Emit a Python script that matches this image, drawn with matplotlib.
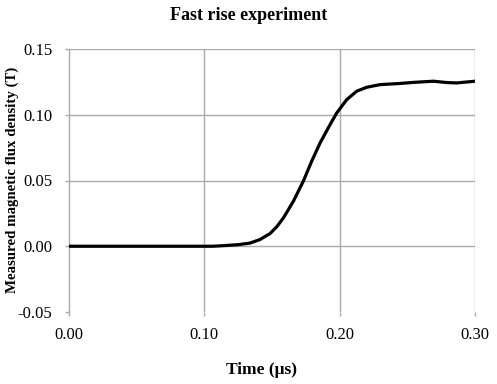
import matplotlib
matplotlib.use("Agg")
import matplotlib.pyplot as plt
from matplotlib.ticker import FixedLocator, FormatStrFormatter

time_us = [0.0, 0.05, 0.100, 0.106, 0.115, 0.125, 0.1337, 0.1411, 0.1485, 0.1535, 0.1584, 0.1658,
           0.1731, 0.1793, 0.1855, 0.1929, 0.1978, 0.2052, 0.2126, 0.220, 0.2298,
           0.2446, 0.2544, 0.2692, 0.279, 0.2865, 0.300]
flux_T = [0.0, 0.0, 0.0, 0.0, 0.0005, 0.0012, 0.0024, 0.0051, 0.0096, 0.0148, 0.0215, 0.0342,
          0.0494, 0.0646, 0.0785, 0.0925, 0.1013, 0.1115, 0.1179, 0.1209, 0.1229,
          0.1238, 0.1246, 0.1255, 0.1245, 0.1242, 0.1255]

x_ticks = [0.0, 0.1, 0.2, 0.3]
y_ticks = [-0.05, 0.0, 0.05, 0.10, 0.15]

plt.rcParams['font.family'] = ['Liberation Serif', 'DejaVu Serif']

fig = plt.figure(figsize=(4.97, 3.84), dpi=100)
ax = fig.add_axes([69/497, 1 - 312/384, (475-69)/497, (312-49)/384])

grid_c = '#aaaaaa'
ax.set_xlim(0, 0.3)
ax.set_ylim(-0.05, 0.15)
ax.xaxis.set_major_locator(FixedLocator(x_ticks))
ax.yaxis.set_major_locator(FixedLocator(y_ticks))
ax.xaxis.set_major_formatter(FormatStrFormatter('%.2f'))
ax.yaxis.set_major_formatter(FormatStrFormatter('%.2f'))

for v in [0.05, 0.10, 0.15]:
    ax.axhline(v, color=grid_c, lw=1.0, zorder=1)
for v in [0.1, 0.2, 0.3]:
    ax.axvline(v, color=grid_c, lw=1.0, zorder=1)
ax.axhline(0.0, color=grid_c, lw=1.0, zorder=1)

for s in ['top', 'right', 'bottom']:
    ax.spines[s].set_visible(False)
ax.spines['left'].set_color(grid_c)
ax.spines['left'].set_linewidth(1.0)

ax.tick_params(axis='both', direction='out', length=3, width=1.0, color=grid_c,
               labelsize=12, labelcolor='black')
ax.tick_params(axis='x', pad=8)
ax.tick_params(axis='y', pad=9)

ax.plot(time_us, flux_T, color='black', lw=2.3, zorder=3,
        solid_capstyle='round', solid_joinstyle='round')

fig.text(248.5/497, 1 - 15/384, 'Fast rise experiment', fontsize=13, fontweight='bold',
         ha='center', va='center')
fig.text(261/497, 1 - 370/384, 'Time (\u03bcs)', fontsize=12.5, fontweight='bold',
         ha='center', va='center')
fig.text(12/497, 1 - 180/384, 'Measured magnetic flux density (T)', fontsize=10.7,
         fontweight='bold', rotation=90, ha='center', va='center')

fig.savefig('out.png', dpi=100)
